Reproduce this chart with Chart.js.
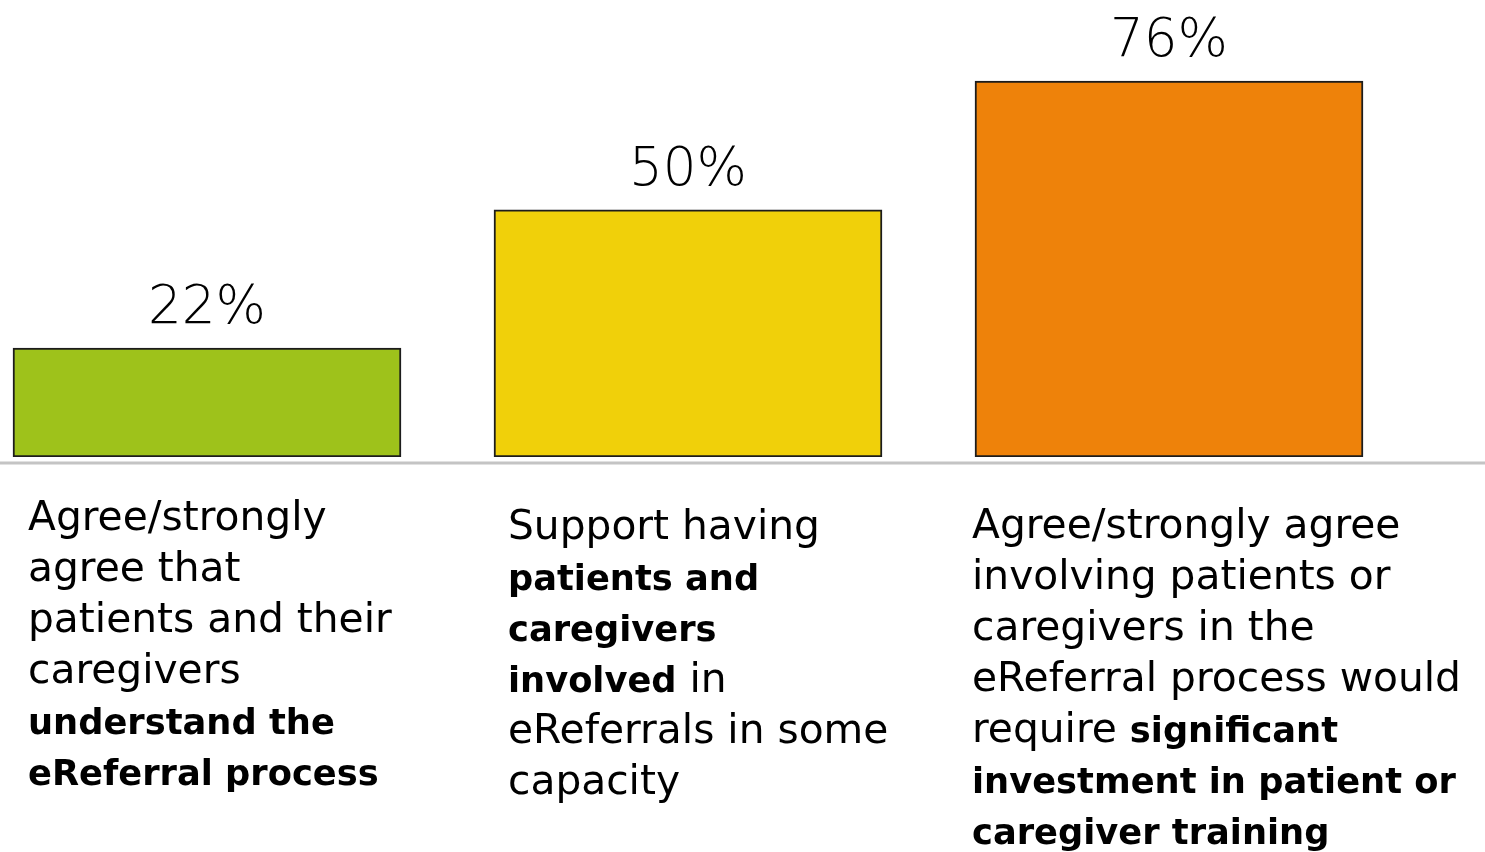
<!DOCTYPE html>
<html>
<head>
<meta charset="utf-8">
<script src="https://cdn.jsdelivr.net/npm/chart.js@4/dist/chart.umd.min.js"></script>
<style>
html,body{margin:0;padding:0;background:#fff;}
#wrap{width:1485px;height:852px;position:relative;}
</style>
</head>
<body>
<div id="wrap"><canvas id="c" width="1485" height="852"></canvas></div>
<script>
const categories = ["Understand eReferral process", "Support involvement", "Require investment in training"];
const values = [22, 50, 76];
const valueLabels = ["22%", "50%", "76%"];
const barColors = ["#9EC21B", "#F0D00A", "#EE820A"];
// label lines: each line is a list of [text, bold]
const labelLines = [
  [[["Agree/strongly", false]], [["agree that", false]], [["patients and their", false]], [["caregivers", false]], [["understand the", true]], [["eReferral process", true]]],
  [[["Support having", false]], [["patients and", true]], [["caregivers", true]], [["involved", true], [" in", false]], [["eReferrals in some", false]], [["capacity", false]]],
  [[["Agree/strongly agree", false]], [["involving patients or", false]], [["caregivers in the", false]], [["eReferral process would", false]], [["require ", false], ["significant", true]], [["investment in patient or", true]], [["caregiver training", true]]]
];

const FAMILY = "'DejaVu Sans', 'Open Sans', sans-serif";
const mctx = document.createElement('canvas').getContext('2d');
function fitSize(text, weight, target) {
  mctx.font = weight + " 100px " + FAMILY;
  return 100 * target / mctx.measureText(text).width;
}
const regSize = fitSize("eReferral process would", "normal", 489);
const boldSize = fitSize("investment in patient or", "bold", 484);
const valSize = fitSize("76%", "200", 118);

const labelPos = [
  {x: 28, y: 530},
  {x: 508, y: 539},
  {x: 972, y: 538}
];
const lineStep = 51;

const overlay = {
  id: 'overlay',
  beforeDatasetsDraw(chart) {
    const ctx = chart.ctx;
    const yBase = chart.scales.y.getPixelForValue(0);
    ctx.save();
    ctx.fillStyle = '#c4c4c4';
    ctx.fillRect(0, yBase + 4.5, chart.width, 3);
    ctx.restore();
  },
  afterDatasetsDraw(chart) {
    const ctx = chart.ctx;
    const meta = chart.getDatasetMeta(0);
    ctx.save();
    ctx.fillStyle = '#000';
    ctx.textAlign = 'center';
    ctx.textBaseline = 'alphabetic';
    ctx.font = "200 " + valSize + "px " + FAMILY;
    meta.data.forEach((bar, i) => {
      ctx.fillText(valueLabels[i], bar.x, bar.y - 25);
    });
    ctx.textAlign = 'left';
    labelLines.forEach((lines, ci) => {
      const p = labelPos[ci];
      lines.forEach((segs, li) => {
        let x = p.x;
        const y = p.y + li * lineStep;
        segs.forEach(([t, b]) => {
          ctx.font = (b ? "bold " + boldSize : "normal " + regSize) + "px " + FAMILY;
          ctx.fillText(t, x, y);
          x += ctx.measureText(t).width;
        });
      });
    });
    ctx.restore();
  }
};

const pxPerUnit = 481, firstCenter = 207, W = 1485;
new Chart(document.getElementById('c'), {
  type: 'bar',
  data: {
    datasets: [{
      data: categories.map((c, i) => ({x: i, y: values[i]})),
      backgroundColor: barColors,
      borderColor: '#1c1c1c',
      borderWidth: 2,
      borderSkipped: false,
      barThickness: 388
    }]
  },
  options: {
    responsive: false,
    animation: false,
    devicePixelRatio: 1,
    layout: {padding: {left: 0, right: 0, top: 2, bottom: 395}},
    plugins: {legend: {display: false}, tooltip: {enabled: false}},
    scales: {
      x: {type: 'linear', display: false, offset: false, min: -firstCenter / pxPerUnit, max: (W - firstCenter) / pxPerUnit},
      y: {display: false, min: 0, max: 92}
    }
  },
  plugins: [overlay]
});
</script>
</body>
</html>
